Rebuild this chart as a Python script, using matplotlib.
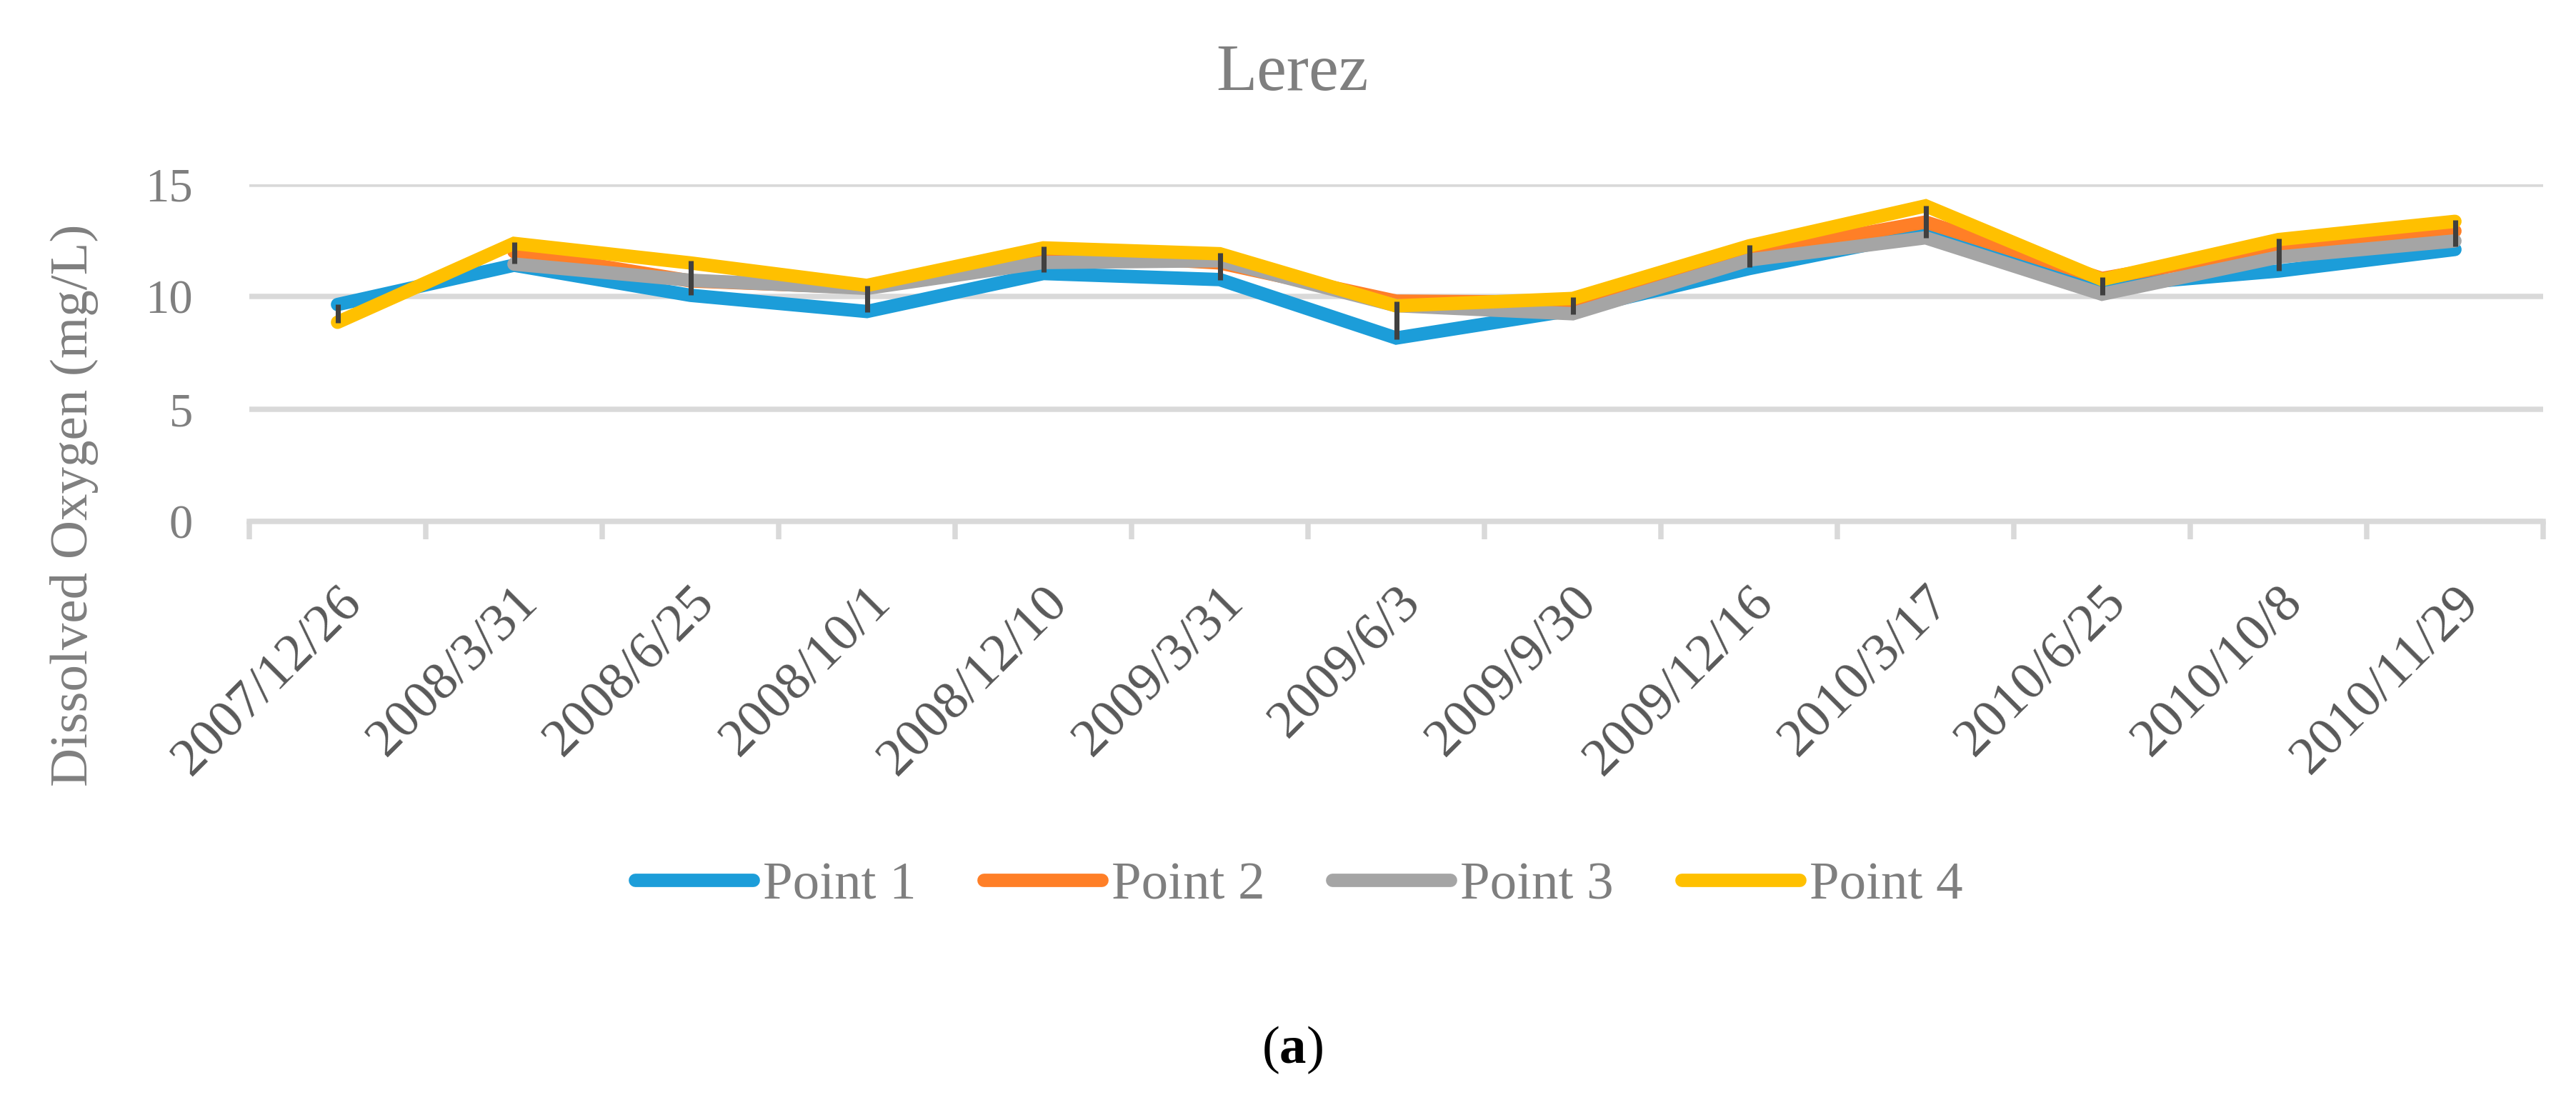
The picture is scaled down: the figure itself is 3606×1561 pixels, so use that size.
import numpy as np
import matplotlib
matplotlib.use("Agg")
import matplotlib.pyplot as plt

plt.rcParams["font.family"] = ["Liberation Serif", "DejaVu Serif"]
plt.rcParams["mathtext.fontset"] = "custom"
plt.rcParams["mathtext.rm"] = "Liberation Serif"
plt.rcParams["mathtext.bf"] = "Liberation Serif:bold"

# sampling dates (category axis)
dates = ["2007/12/26", "2008/3/31", "2008/6/25", "2008/10/1", "2008/12/10",
         "2009/3/31", "2009/6/3", "2009/9/30", "2009/12/16", "2010/3/17",
         "2010/6/25", "2010/10/8", "2010/11/29"]

# dissolved oxygen (mg/L) per sampling point
point1 = [9.65, 11.40, 10.06, 9.34, 11.03, 10.76, 8.16, 9.40, 11.25, 12.83, 10.48, 11.14, 12.10]
point2 = [None, 12.00, 10.70, 10.40, 11.95, 11.50, 9.80, 9.75, 11.90, 13.32, 10.81, 12.20, 12.92]
point3 = [None, 11.45, 10.73, 10.37, 11.52, 11.60, 9.60, 9.24, 11.63, 12.62, 10.11, 11.76, 12.48]
point4 = [8.86, 12.37, 11.50, 10.50, 12.17, 11.91, 9.59, 9.92, 12.26, 14.04, 10.76, 12.54, 13.35]

# error bar extents
err_hi = [9.65, 12.44, 11.59, 10.50, 12.22, 11.94, 9.78, 9.97, 12.29, 14.06, 10.86, 12.57, 13.40]
err_lo = [8.83, 11.46, 10.08, 9.30, 11.08, 10.73, 8.10, 9.21, 11.31, 12.63, 10.08, 11.14, 12.24]

series = [("Point 1", point1, "#1C9DD9"),
          ("Point 2", point2, "#FF7F27"),
          ("Point 3", point3, "#A5A5A5"),
          ("Point 4", point4, "#FFC000")]

W, H = 3606, 1561
fig = plt.figure(figsize=(W / 300, H / 300), dpi=300)
ax = fig.add_axes([349 / W, 1 - 730 / H, (3560 - 349) / W, (730 - 258) / H])

x = np.arange(len(dates))
for name, vals, col in series:
    v = np.array([np.nan if a is None else a for a in vals], dtype=float)
    ax.plot(x, v, color=col, lw=4.5, label=name,
            solid_capstyle="round", solid_joinstyle="miter")

ax.vlines(x, err_lo, err_hi, color="#404040", lw=1.7, zorder=5)

ax.set_xlim(-0.5, len(dates) - 0.5)
ax.set_ylim(0, 15)
ax.set_yticks([0, 5, 10, 15])
ax.set_xticks(x)
ax.set_xticklabels(dates)
ax.set_xticks(np.arange(-0.5, len(dates), 1), minor=True)

ax.yaxis.grid(True, color="#D9D9D9", lw=1.8)
ax.set_axisbelow(True)
for s in ["top", "right", "left"]:
    ax.spines[s].set_visible(False)
ax.spines["bottom"].set_color("#D9D9D9")
ax.spines["bottom"].set_linewidth(1.8)

ax.tick_params(axis="y", length=0, pad=19, labelsize=16, labelcolor="#7F7F7F")
ax.tick_params(axis="x", which="major", length=0, pad=19, labelsize=18, labelcolor="#595959")
ax.tick_params(axis="x", which="minor", length=6, width=1.8, color="#D9D9D9")
plt.setp(ax.get_xticklabels(), rotation=45, ha="right", rotation_mode="anchor")
for lbl in ax.get_xticklabels():
    lbl.set_x(lbl.get_position()[0])

fig.text(1809 / W, 1 - 126 / H, "Lerez", ha="center", va="baseline",
         fontsize=22.5, color="#7F7F7F")
fig.text(104 / W, 1 - 707 / H, "Dissolved Oxygen (mg/L)", rotation=90,
         ha="center", va="center", fontsize=18, color="#7F7F7F")

leg = fig.legend(loc="center", bbox_to_anchor=(1818 / W, 1 - 1240 / H), ncol=4,
                 frameon=False, fontsize=18, handlelength=2.2,
                 handletextpad=0.19, columnspacing=1.26)
for t in leg.get_texts():
    t.set_color("#7F7F7F")

fig.text(1809 / W, 1 - 1488 / H, r"($\mathbf{a}$)", ha="center", va="baseline",
         fontsize=18, color="black")

fig.savefig("out.png", dpi=300)
